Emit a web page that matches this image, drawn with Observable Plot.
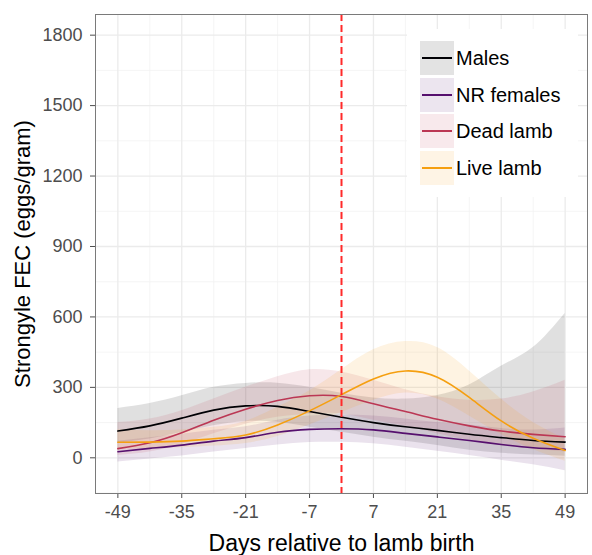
<!DOCTYPE html>
<html><head><meta charset="utf-8">
<script src="https://cdn.jsdelivr.net/npm/d3@7"></script>
<script src="https://cdn.jsdelivr.net/npm/@observablehq/plot@0.6"></script>
<style>
body{margin:0;background:#fff;font-family:"Liberation Sans",Arial,sans-serif;}
#wrap{position:relative;width:592px;height:555px;}
#legend{position:absolute;left:407px;top:29px;width:171px;height:168px;background:#fff;}
.key{position:absolute;left:13px;width:34px;height:34px;}
.key .ln{position:absolute;left:2px;right:2px;top:16px;height:2px;}
.lab{position:absolute;left:49px;height:34px;line-height:34px;font-size:20px;color:#000;white-space:nowrap;}
</style></head><body><div id="wrap"></div>
<script>
const days = [-49,-42,-35,-28,-21,-14,-7,0,7,14,21,28,35,42,49];
const series = ["Males","NR females","Dead lamb","Live lamb"];
const colors = ["#000004","#56106E","#BB3754","#F59F10"];

const males    = [114,136,169,203,221,219,197,173,150,132,117,100,86,74,67];
const malesLo  = [62,80,108,137,154,151,130,109,88,70,52,32,19,12,7];
const malesHi  = [210,231,264,300,317,318,300,275,255,250,265,310,390,470,615];

const nrFemales   = [26,40,54,71,86,109,121,124,119,104,89,74,57,43,36];
const nrFemalesLo = [-18,-5,8,25,40,55,65,66,60,45,28,10,-10,-30,-55];
const nrFemalesHi = [70,85,100,117,132,160,178,182,178,165,150,140,125,118,127];

const deadLamb   = [39,64,107,160,207,244,264,261,230,197,164,136,114,100,90];
const deadLambLo = [10,25,57,102,143,173,186,187,160,134,103,75,52,36,25];
const deadLambHi = [150,165,200,250,300,345,375,365,330,290,260,245,250,280,330];

const liveLamb   = [66,67,71,81,97,140,200,269,336,370,343,257,157,83,31];
const liveLambLo = [36,39,43,50,61,91,140,193,245,276,250,178,99,35,-15];
const liveLambHi = [120,115,118,130,155,215,285,375,460,495,470,370,250,150,80];

const xTicks = [-49,-35,-21,-7,7,21,35,49];
const xMinor = [-42,-28,-14,0,14,28,42];
const yTicks = [0,300,600,900,1200,1500,1800];
const yMinor = [-150,150,450,750,1050,1350,1650];
const birthDay = [0];
const xTitle = "Days relative to lamb birth";
const yTitle = "Strongyle FEC (eggs/gram)";

const fits = [males, nrFemales, deadLamb, liveLamb];
const los = [malesLo, nrFemalesLo, deadLambLo, liveLambLo];
const his = [malesHi, nrFemalesHi, deadLambHi, liveLambHi];
const rows = series.flatMap((s,i)=>days.map((d,j)=>({series:s, day:d, fit:fits[i][j], lo:los[i][j], hi:his[i][j]})));

const plot = Plot.plot({
  width:592, height:555, marginLeft:95, marginRight:5, marginTop:14, marginBottom:62,
  style:{fontFamily:"'Liberation Sans', Arial, sans-serif", background:"#fff", fontSize:"18px"},
  x:{domain:[-53.9,53.9]},
  y:{domain:[-152,1888]},
  color:{domain:series, range:colors},
  marks:[
    Plot.ruleX(xMinor, {stroke:"#f2f2f2", strokeWidth:0.8}),
    Plot.ruleY(yMinor, {stroke:"#f2f2f2", strokeWidth:0.8}),
    Plot.ruleX(xTicks, {stroke:"#ebebeb", strokeWidth:1.3}),
    Plot.ruleY(yTicks, {stroke:"#ebebeb", strokeWidth:1.3}),
    Plot.areaY(rows, {x:"day", y1:"lo", y2:"hi", z:"series", fill:"series", fillOpacity:0.12, curve:"natural", clip:true}),
    Plot.lineY(rows, {x:"day", y:"fit", z:"series", stroke:"series", strokeWidth:1.6, curve:"natural", clip:true}),
    Plot.ruleX(birthDay, {stroke:"#ff2a2a", strokeWidth:2, strokeDasharray:"7,4"}),
    Plot.axisX(xTicks, {tickSize:5, tickPadding:7, color:"#4d4d4d", label:null, tickFormat:d=>String(d)}),
    Plot.axisY(yTicks, {tickSize:5, tickPadding:8, color:"#4d4d4d", label:null, tickFormat:d=>String(d)}),
    Plot.text([xTitle], {frameAnchor:"bottom", dy:57, lineAnchor:"bottom", fontSize:23, fill:"#000"}),
    Plot.text([yTitle], {frameAnchor:"left", dx:-81, rotate:-90, textAnchor:"middle", lineAnchor:"top", fontSize:22, fill:"#000"}),
    Plot.frame({stroke:"#7a7a7a", strokeWidth:1})
  ]
});
const wrap = document.getElementById("wrap");
wrap.appendChild(plot);

const legend = document.createElement("div");
legend.id = "legend";
series.forEach((s,i)=>{
  const top = 12 + i*36.7;
  const key = document.createElement("div");
  key.className = "key";
  key.style.top = top + "px";
  const c = d3.color(colors[i]); c.opacity = 0.11;
  key.style.background = c.formatRgb();
  const ln = document.createElement("div");
  ln.className = "ln";
  ln.style.background = colors[i];
  key.appendChild(ln);
  legend.appendChild(key);
  const lab = document.createElement("div");
  lab.className = "lab";
  lab.style.top = top + "px";
  lab.textContent = s;
  legend.appendChild(lab);
});
wrap.appendChild(legend);
</script></body></html>
